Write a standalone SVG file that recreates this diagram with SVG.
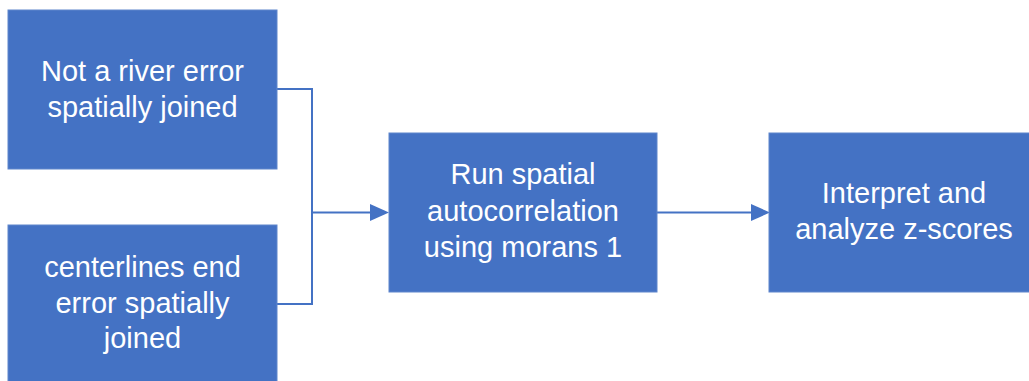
<svg xmlns="http://www.w3.org/2000/svg" width="1029" height="381" viewBox="0 0 1029 381">
<style>
.box{fill:#4472C4;stroke:#5f86cc;stroke-width:1}
.lbl{font-family:"Liberation Sans",Arial,sans-serif;font-size:29px;fill:#ffffff;text-anchor:middle}
.conn{fill:none;stroke:#4472C4;stroke-width:2}
</style>
<rect width="1029" height="381" fill="#ffffff"/>
<g id="connectors">
<polyline class="conn" points="277,89 312,89 312,304 277,304"/>
<line class="conn" x1="312" y1="212.5" x2="372" y2="212.5"/>
<path d="M370,204 L389,212.5 L370,221 Z" fill="#4472C4"/>
<line class="conn" x1="657" y1="212.5" x2="753" y2="212.5"/>
<path d="M751,204 L770,212.5 L751,221 Z" fill="#4472C4"/>
</g>
<g id="node1">
<rect class="box" x="8" y="10" width="269" height="159"/>
<text class="lbl" x="142.5" y="81">Not a river error</text>
<text class="lbl" x="142.5" y="117">spatially joined</text>
</g>
<g id="node2">
<rect class="box" x="8" y="225" width="269" height="160"/>
<text class="lbl" x="142.5" y="277">centerlines end</text>
<text class="lbl" x="142.5" y="313">error spatially</text>
<text class="lbl" x="142.5" y="348">joined</text>
</g>
<g id="node3">
<rect class="box" x="389" y="133" width="268" height="159"/>
<text class="lbl" x="523" y="184">Run spatial</text>
<text class="lbl" x="523" y="221">autocorrelation</text>
<text class="lbl" x="523" y="257">using morans 1</text>
</g>
<g id="node4">
<rect class="box" x="769" y="133" width="270" height="159"/>
<text class="lbl" x="904" y="203">Interpret and</text>
<text class="lbl" x="904" y="239">analyze z-scores</text>
</g>
</svg>
